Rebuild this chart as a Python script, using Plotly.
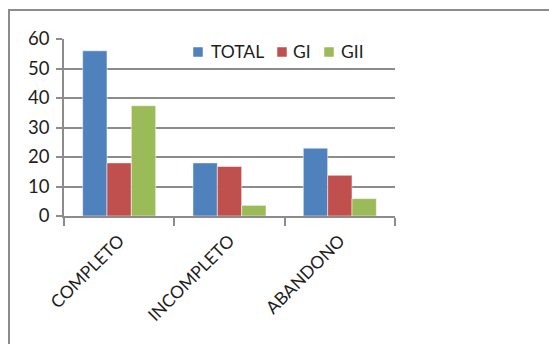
import plotly.graph_objects as go

categories = ["COMPLETO", "INCOMPLETO", "ABANDONO"]
total = [56, 18, 23]
gi = [18, 16.8, 13.8]
gii = [37.4, 3.6, 5.9]
series_names = ["TOTAL", "GI", "GII"]
colors = ["#4F81BD", "#C0504D", "#9BBB59"]
y_ticks = [0, 10, 20, 30, 40, 50, 60]

W, H = 549, 344
L, R, T, B = 64, 154, 39, 128
FONT = "Lato"
TXT = "#1e1e1e"

fig = go.Figure()
for name, vals, col in zip(series_names, [total, gi, gii], colors):
    fig.add_trace(go.Bar(
        x=categories, y=vals, name=name, showlegend=False,
        marker=dict(color=col, line=dict(color="rgba(255,255,255,0.5)", width=1)),
    ))

pw = W - L - R
ph = H - T - B


def px_x(px):
    return (px - L) / pw


def px_y(py):
    return (H - B - py) / ph


fig.add_shape(type="rect", xref="paper", yref="paper",
              x0=px_x(9), x1=2.0, y0=-2.0, y1=px_y(10),
              line=dict(color="#8c8c8c", width=2), fillcolor="rgba(0,0,0,0)", layer="below")

# legend (drawn as key squares + text)
legend_marker_x = [193, 277, 324]
legend_text_x = [209, 291, 339]
legend_cy = 52
for name, col, mx, tx in zip(series_names, colors, legend_marker_x, legend_text_x):
    fig.add_shape(type="rect", xref="paper", yref="paper",
                  x0=px_x(mx), x1=px_x(mx + 10), y0=px_y(legend_cy + 5), y1=px_y(legend_cy - 5),
                  line=dict(color="rgba(255,255,255,0.5)", width=1), fillcolor=col)
    fig.add_annotation(xref="paper", yref="paper", x=px_x(tx), y=px_y(legend_cy - 1),
                       xanchor="left", yanchor="middle", text=name, showarrow=False,
                       font=dict(family=FONT, size=17.5, color=TXT))

fig.update_layout(
    width=W, height=H,
    margin=dict(l=L, r=R, t=T, b=B),
    paper_bgcolor="white", plot_bgcolor="white",
    barmode="group", bargap=0.338, bargroupgap=0,
    font=dict(family=FONT, size=17, color=TXT),
    showlegend=False,
    xaxis=dict(showline=True, linecolor="#8c8c8c", linewidth=1.5,
               ticks="outside", tickson="boundaries", ticklen=8, tickcolor="#8c8c8c",
               tickwidth=1.5, tickangle=-45, tickfont=dict(size=17.5), showgrid=False,
               ticklabelstandoff=6),
    yaxis=dict(range=[0, 60], tickvals=y_ticks, showline=True, linecolor="#8c8c8c",
               linewidth=1.5, ticks="outside", ticklen=6, tickcolor="#8c8c8c", tickwidth=1.5,
               showgrid=True, gridcolor="#8c8c8c", gridwidth=1.5, zeroline=False,
               tickfont=dict(size=18.5), ticklabelstandoff=3),
)

fig.write_html("out.html")
